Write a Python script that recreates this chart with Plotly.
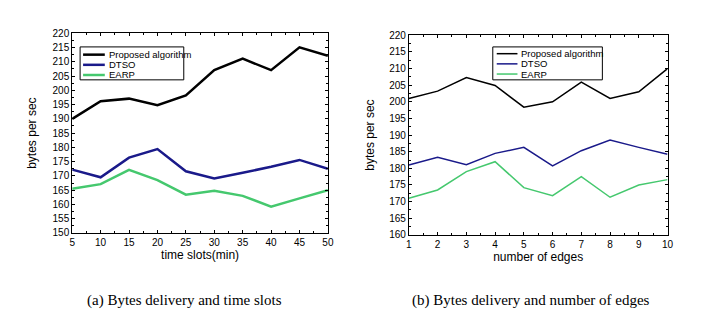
import plotly.graph_objects as go

# ---- data ----
series_names = ["Proposed algorithm", "DTSO", "EARP"]
series_colors = ["#000000", "#1a1a8a", "#45c86e"]

x_time = [5, 10, 15, 20, 25, 30, 35, 40, 45, 50]
a_proposed = [190.0, 196.2, 197.1, 194.8, 198.2, 207.1, 211.1, 207.1, 215.1, 212.1]
a_dtso = [172.2, 169.5, 176.4, 179.4, 171.6, 169.1, 171.1, 173.2, 175.6, 172.5]
a_earp = [165.5, 167.1, 172.1, 168.5, 163.4, 164.8, 163.0, 159.2, 162.1, 165.0]

x_edges = [1, 2, 3, 4, 5, 6, 7, 8, 9, 10]
b_proposed = [201.0, 203.2, 207.3, 204.9, 198.4, 200.0, 205.9, 201.0, 203.0, 210.0]
b_dtso = [181.0, 183.3, 181.1, 184.5, 186.3, 180.7, 185.3, 188.5, 186.3, 184.2]
b_earp = [171.0, 173.5, 179.0, 182.0, 174.2, 171.8, 177.5, 171.3, 175.0, 176.6]

x_title_a = "time slots(min)"
x_title_b = "number of edges"
y_title = "bytes per sec"
caption_a = "(a) Bytes delivery and time slots"
caption_b = "(b) Bytes delivery and number of edges"

W, H = 707, 320
FONT = "Liberation Sans, Arial, sans-serif"

def px(x):
    return x / W

def py(y):
    return 1 - y / H

fig = go.Figure()

for name, col, ys in zip(series_names, series_colors, [a_proposed, a_dtso, a_earp]):
    fig.add_trace(go.Scatter(x=x_time, y=ys, mode="lines", name=name,
                             line=dict(color=col, width=2.5),
                             xaxis="x", yaxis="y", showlegend=False))
for name, col, ys in zip(series_names, series_colors, [b_proposed, b_dtso, b_earp]):
    fig.add_trace(go.Scatter(x=x_edges, y=ys, mode="lines", name=name,
                             line=dict(color=col, width=1.5),
                             xaxis="x2", yaxis="y2", showlegend=False))

axis_common = dict(showline=True, linecolor="black", linewidth=1, mirror="ticks",
                   ticks="inside", ticklen=3, tickcolor="black", showgrid=False,
                   zeroline=False, tickfont=dict(family=FONT, size=10, color="black"))

fig.update_layout(
    width=W, height=H,
    margin=dict(l=0, r=0, t=0, b=0),
    paper_bgcolor="white", plot_bgcolor="white",
    font=dict(family=FONT, color="black"),
    xaxis=dict(domain=[px(62), px(321)], range=[5, 50], dtick=5, anchor="y",
               title=dict(text=x_title_a, font=dict(size=12), standoff=2),
               minor=dict(dtick=2.5, ticks="inside", ticklen=2, tickcolor="black"),
               **axis_common),
    yaxis=dict(domain=[py(227), py(21)], range=[150, 220], dtick=5, anchor="x",
               title=dict(text=y_title, font=dict(size=12), standoff=13),
               minor=dict(dtick=2.5, ticks="inside", ticklen=2, tickcolor="black"),
               **axis_common),
    xaxis2=dict(domain=[px(403), px(665)], range=[1, 10], dtick=1, anchor="y2",
                title=dict(text=x_title_b, font=dict(size=12), standoff=2),
                minor=dict(dtick=0.5, ticks="inside", ticklen=2, tickcolor="black"),
                **axis_common),
    yaxis2=dict(domain=[py(229), py(23)], range=[160, 220], dtick=5, anchor="x2",
                title=dict(text=y_title, font=dict(size=12), standoff=11),
                minor=dict(dtick=2.5, ticks="inside", ticklen=2, tickcolor="black"),
                **axis_common),
)

# custom compact legends (box, line samples, labels)
shapes = []
annotations = []
legend_specs = [
    # box x0, x1, y0, y1, line x0, line x1, text x, row ys, line width
    (70, 175, 35, 69, 73, 95, 97, [43, 53.5, 64], 2.5),
    (488, 599, 35, 69, 492, 513, 515, [42, 52.5, 63], 1.5),
]
for bx0, bx1, by0, by1, lx0, lx1, tx, rows, lw in legend_specs:
    shapes.append(dict(type="rect", xref="paper", yref="paper",
                       x0=px(bx0), x1=px(bx1), y0=py(by1), y1=py(by0),
                       line=dict(color="black", width=1), fillcolor="white", layer="above"))
    for name, col, ry in zip(series_names, series_colors, rows):
        shapes.append(dict(type="line", xref="paper", yref="paper",
                           x0=px(lx0), x1=px(lx1), y0=py(ry), y1=py(ry),
                           line=dict(color=col, width=lw), layer="above"))
        annotations.append(dict(text=name, xref="paper", yref="paper",
                                x=px(tx), y=py(ry), xanchor="left", yanchor="middle",
                                showarrow=False, font=dict(family=FONT, size=9.5, color="black")))

annotations.append(dict(text=caption_a, xref="paper", yref="paper", x=px(176), y=py(297),
                        xanchor="center", yanchor="middle", showarrow=False,
                        font=dict(family="Liberation Serif, serif", size=15, color="black")))
annotations.append(dict(text=caption_b, xref="paper", yref="paper", x=px(527), y=py(297),
                        xanchor="center", yanchor="middle", showarrow=False,
                        font=dict(family="Liberation Serif, serif", size=15, color="black")))

fig.update_layout(shapes=shapes, annotations=annotations)

fig.write_html("out.html")
